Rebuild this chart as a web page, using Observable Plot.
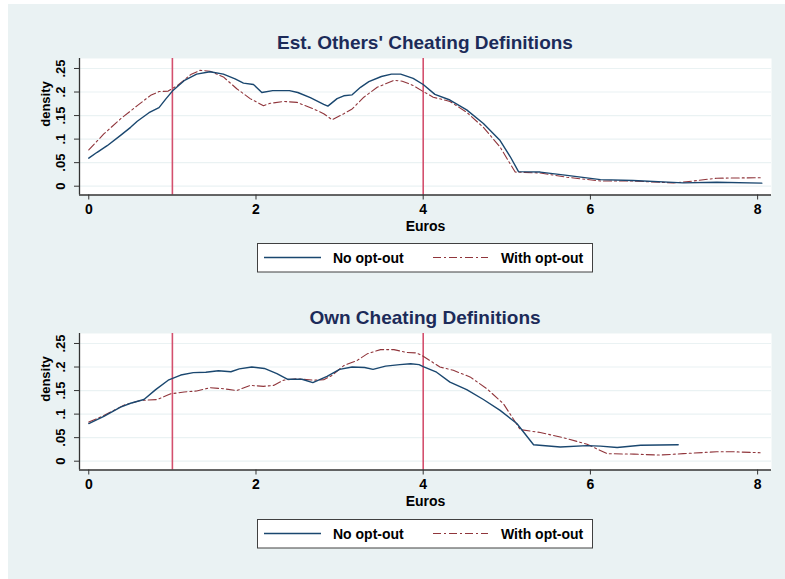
<!DOCTYPE html>
<html><head><meta charset="utf-8">
<script src="https://cdn.jsdelivr.net/npm/d3@7"></script>
<script src="https://cdn.jsdelivr.net/npm/@observablehq/plot@0.6"></script>
<style>
html,body{margin:0;padding:0;background:#fff;}
body{width:785px;height:579px;position:relative;overflow:hidden;font-family:"Liberation Sans",Arial,sans-serif;}
#bg{position:absolute;left:8px;top:4px;width:777px;height:575px;background:#eaf2f3;}
.title{position:absolute;left:79px;width:692px;text-align:center;font-size:19px;font-weight:bold;line-height:19px;color:#1c2b59;white-space:nowrap;}
.panel{position:absolute;left:0;}
.legend{position:absolute;left:257px;}
</style>
</head><body>
<div id="bg"></div>
<div class="title" id="t1" style="top:32.6px"></div>
<div class="panel" id="p1" style="top:50px"></div>
<div class="legend" id="l1" style="top:243px"></div>
<div class="title" id="t2" style="top:308px"></div>
<div class="panel" id="p2" style="top:325.3px"></div>
<div class="legend" id="l2" style="top:519px"></div>
<script>
// ---- data ----
const xTicks = [0, 2, 4, 6, 8];
const yTicks = [0, 0.05, 0.1, 0.15, 0.2, 0.25];
const yTickLabels = ["0", ".05", ".1", ".15", ".2", ".25"];
const refLines = [1, 4];
const seriesNames = ["No opt-out", "With opt-out"];
const panelTitles = ["Est. Others' Cheating Definitions", "Own Cheating Definitions"];

// Panel 1: Est. Others' Cheating Definitions
const othersNoOptX = [0,0.1,0.22,0.38,0.5,0.58,0.72,0.84,0.92,1.0,1.14,1.29,1.45,1.61,1.75,1.85,1.97,2.07,2.2,2.4,2.5,2.65,2.81,2.86,2.97,3.05,3.15,3.25,3.35,3.5,3.62,3.73,3.88,4.0,4.14,4.32,4.52,4.72,4.92,5.04,5.14,5.4,5.72,6.12,6.51,7.11,7.51,8.05];
const othersNoOptY = [0.0595,0.072,0.086,0.108,0.125,0.138,0.156,0.167,0.185,0.202,0.224,0.238,0.243,0.238,0.228,0.219,0.216,0.199,0.203,0.203,0.199,0.188,0.174,0.17,0.186,0.192,0.194,0.21,0.222,0.233,0.238,0.238,0.229,0.216,0.195,0.183,0.162,0.133,0.097,0.063,0.031,0.03,0.023,0.014,0.012,0.007,0.0085,0.0065];
const othersWithOptX = [0,0.18,0.38,0.58,0.74,0.84,0.95,1.06,1.22,1.33,1.45,1.61,1.77,1.93,2.09,2.17,2.33,2.49,2.69,2.81,2.91,3.05,3.15,3.29,3.45,3.65,3.75,3.88,4.0,4.12,4.32,4.52,4.72,4.92,5.1,5.4,5.72,6.12,6.51,6.99,7.11,7.51,8.05];
const othersWithOptY = [0.077,0.111,0.143,0.171,0.193,0.201,0.202,0.214,0.237,0.246,0.244,0.232,0.207,0.186,0.171,0.176,0.18,0.178,0.164,0.154,0.141,0.154,0.164,0.189,0.21,0.225,0.223,0.214,0.201,0.189,0.18,0.157,0.125,0.083,0.03,0.028,0.019,0.011,0.011,0.007,0.0085,0.017,0.018];

// Panel 2: Own Cheating Definitions
const ownNoOptX = [0,0.18,0.38,0.5,0.66,0.8,0.95,1.1,1.25,1.4,1.55,1.7,1.8,1.95,2.1,2.25,2.38,2.55,2.68,2.85,3.0,3.15,3.3,3.4,3.55,3.72,3.85,3.95,4.0,4.16,4.32,4.52,4.72,4.92,5.12,5.32,5.64,5.96,6.12,6.32,6.6,7.05];
const ownNoOptY = [0.08,0.095,0.115,0.123,0.131,0.152,0.172,0.183,0.188,0.189,0.192,0.19,0.196,0.2,0.197,0.186,0.174,0.174,0.167,0.18,0.195,0.2,0.199,0.195,0.202,0.205,0.207,0.205,0.201,0.189,0.168,0.152,0.131,0.108,0.08,0.035,0.03,0.033,0.032,0.029,0.034,0.035];
const ownWithOptX = [0,0.18,0.42,0.62,0.82,0.98,1.14,1.29,1.45,1.61,1.77,1.93,2.09,2.21,2.33,2.49,2.69,2.81,2.91,3.05,3.21,3.33,3.49,3.65,3.8,3.92,4.0,4.2,4.36,4.56,4.76,4.96,5.16,5.4,5.72,5.96,6.2,6.52,6.83,7.11,7.51,7.71,8.03];
const ownWithOptY = [0.083,0.097,0.119,0.129,0.131,0.143,0.147,0.149,0.156,0.154,0.15,0.161,0.159,0.161,0.172,0.175,0.172,0.173,0.182,0.203,0.214,0.228,0.237,0.237,0.231,0.23,0.223,0.2,0.193,0.179,0.154,0.122,0.067,0.061,0.048,0.036,0.016,0.015,0.013,0.016,0.02,0.02,0.018];

// ---- styling ----
const xDomain = [-0.111, 8.166];
const yDomain = [-0.0187, 0.2712];
const colNo = "#1a476f", colWith = "#90353b", colRef = "#d4506e", colGrid = "#eaf2f3", colAxis = "#333333";
const dashWith = "8,3,2,3";
const font = "'Liberation Sans', Arial, sans-serif";

function toRows(xs, ys) { return xs.map((x, i) => ({x, y: ys[i]})); }

function panel(noX, noY, wX, wY) {
  const no = toRows(noX, noY), w = toRows(wX, wY);
  const yt = yTicks.map((v, i) => ({v, label: yTickLabels[i]}));
  return Plot.plot({
    width: 785, height: 8 + 136.5 + 45,
    marginTop: 8, marginBottom: 45, marginLeft: 79, marginRight: 14,
    x: {domain: xDomain},
    y: {domain: yDomain},
    style: {background: "transparent", fontFamily: font, fontSize: "14px", color: "#000", overflow: "visible"},
    marks: [
      Plot.frame({fill: "white", stroke: null}),
      Plot.ruleY(yTicks, {stroke: colGrid, strokeWidth: 1.2}),
      Plot.ruleX(refLines, {stroke: colRef, strokeWidth: 1.6}),
      Plot.line(w, {x: "x", y: "y", stroke: colWith, strokeWidth: 1.1, strokeDasharray: dashWith}),
      Plot.line(no, {x: "x", y: "y", stroke: colNo, strokeWidth: 1.4}),
      Plot.ruleX([xDomain[0]], {stroke: colAxis, strokeWidth: 1.3}),
      Plot.ruleY([yDomain[0]], {stroke: colAxis, strokeWidth: 1.3}),
      Plot.axisX({ticks: xTicks, tickSize: 5, tickPadding: 4, label: null, fontSize: 14, fontWeight: "bold", stroke: colAxis}),
      Plot.axisY({ticks: yTicks, tickSize: 5, tickFormat: () => "", label: null, stroke: colAxis}),
      Plot.text(yt, {y: "v", text: "label", frameAnchor: "left", dx: -19, rotate: -90, textAnchor: "middle", lineAnchor: "middle", fontSize: 13, fontWeight: "bold"}),
      Plot.text(["density"], {frameAnchor: "left", dx: -34, rotate: -90, lineAnchor: "middle", fontSize: 13, fontWeight: "bold"}),
      Plot.text(["Euros"], {frameAnchor: "bottom", dy: 26, lineAnchor: "top", fontSize: 14, fontWeight: "bold"})
    ]
  });
}

function legend() {
  const ns = "http://www.w3.org/2000/svg";
  const svg = document.createElementNS(ns, "svg");
  svg.setAttribute("width", 337); svg.setAttribute("height", 30);
  svg.innerHTML =
    `<rect x="0.5" y="0.5" width="335" height="28.5" fill="#fff" stroke="#404040" stroke-width="1"/>` +
    `<line x1="7" x2="64" y1="14.5" y2="14.5" stroke="${colNo}" stroke-width="1.4"/>` +
    `<text x="76" y="14.5" dominant-baseline="central" font-family="${font}" font-size="14" font-weight="bold">${seriesNames[0]}</text>` +
    `<line x1="176" x2="231" y1="14.5" y2="14.5" stroke="${colWith}" stroke-width="1.1" stroke-dasharray="${dashWith}"/>` +
    `<text x="244" y="14.5" dominant-baseline="central" font-family="${font}" font-size="14" font-weight="bold">${seriesNames[1]}</text>`;
  return svg;
}

document.getElementById("t1").textContent = panelTitles[0];
document.getElementById("t2").textContent = panelTitles[1];
document.getElementById("p1").appendChild(panel(othersNoOptX, othersNoOptY, othersWithOptX, othersWithOptY));
document.getElementById("p2").appendChild(panel(ownNoOptX, ownNoOptY, ownWithOptX, ownWithOptY));
document.getElementById("l1").appendChild(legend());
document.getElementById("l2").appendChild(legend());
</script>
</body></html>
